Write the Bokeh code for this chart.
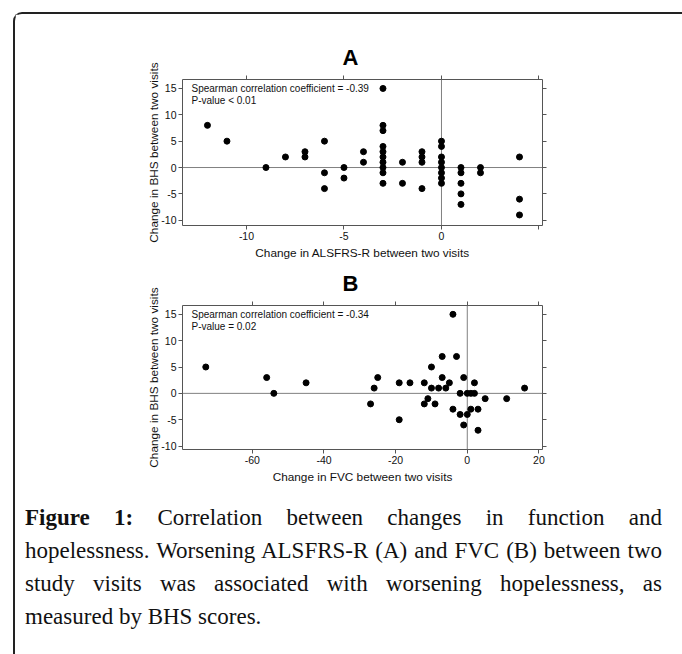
from bokeh.plotting import figure
from bokeh.models import Span, Label, LinearAxis, FixedTicker, Div, Range1d, Spacer
from bokeh.layouts import column, row
from bokeh.embed import file_html
from bokeh.resources import INLINE

# ---------------- data ----------------
a_x = [-12, -11, -9, -8, -7, -7, -6, -6, -6, -5, -5, -4, -4,
       -3, -3, -3, -3, -3, -3, -3, -3, -3, -3,
       -2, -2, -1, -1, -1, -1,
       0, 0, 0, 0, 0, 0, 0, 0,
       1, 1, 1, 1, 1, 2, 2, 4, 4, 4]
a_y = [8, 5, 0, 2, 3, 2, 5, -1, -4, 0, -2, 3, 1,
       15, 8, 7, 4, 3, 2, 1, 0, -1, -3,
       1, -3, 3, 2, 1, -4,
       5, 4, 2, 1, 0, -1, -2, -3,
       0, -1, -3, -5, -7, 0, -1, 2, -6, -9]

b_x = [-73, -56, -54, -45, -27, -26, -25, -19, -19, -16, -12, -12, -11,
       -10, -10, -9, -8, -7, -7, -6, -5, -4, -4, -3, -2, -2, -1, -1,
       0, 0, 1, 1, 2, 2, 3, 3, 5, 11, 16]
b_y = [5, 3, 0, 2, -2, 1, 3, 2, -5, 2, 2, -2, -1,
       5, 1, -2, 1, 7, 3, 1, 2, 15, -3, 7, 0, -4, 3, -6,
       0, -4, 0, -3, 2, 0, -3, -7, -1, -1, 1]

y_ticks = [-10, -5, 0, 5, 10, 15]
y_labels = {-10: "-10", -5: "-5", 0: "0", 5: "5", 10: "10", 15: "15"}
a_x_ticks = [-10, -5, 0, 5]
a_x_labels = {-10: "-10", -5: "-5", 0: "0", 5: ""}
b_x_ticks = [-60, -40, -20, 0, 20]
b_x_labels = {-60: "-60", -40: "-40", -20: "-20", 0: "0", 20: "20"}

a_note = ["Spearman correlation coefficient = -0.39", "P-value < 0.01"]
b_note = ["Spearman correlation coefficient = -0.34", "P-value = 0.02"]

caption_lines = [
    "<b>Figure 1:</b> Correlation between changes in function and",
    "hopelessness. Worsening ALSFRS-R (A) and FVC (B) between two",
    "study visits was associated with worsening hopelessness, as",
    "measured by BHS scores.",
]

FONT = "Liberation Sans"
FRAME = "#555555"
TXT = "#111111"
W = 667
X0 = 15  # page x of the content start


def panel(xs, ys, title, xlabel, xr, yr, xticks, xover, note, note_x,
          height, top, bottom):
    p = figure(width=W, height=height, x_range=Range1d(*xr), y_range=Range1d(*yr),
               output_backend="svg", toolbar_location=None, title=title,
               min_border_left=182 - X0, min_border_right=W + X0 - 542,
               min_border_top=top, min_border_bottom=bottom,
               background_fill_color="white", border_fill_color="white",
               outline_line_color=FRAME, outline_line_width=1)
    p.grid.visible = False

    p.title.align = "left"
    p.title.offset = 160
    p.title.text_font = FONT
    p.title.text_font_size = "22px"
    p.title.text_font_style = "bold"
    p.title.text_color = "black"
    p.title.standoff = 12

    for ax in (p.below[0], p.left[0]):
        ax.axis_line_color = None
        ax.major_tick_line_color = FRAME
        ax.major_tick_out = 4
        ax.major_tick_in = 0
        ax.minor_tick_out = 0
        ax.minor_tick_in = 0
        ax.major_label_text_font = FONT
        ax.major_label_text_font_size = "10.5px"
        ax.major_label_text_color = TXT
        ax.axis_label_text_font = FONT
        ax.axis_label_text_font_size = "11.8px"
        ax.axis_label_text_font_style = "normal"
        ax.axis_label_text_color = TXT
        ax.major_label_standoff = 2

    xb = p.below[0]
    xb.ticker = FixedTicker(ticks=xticks)
    xb.major_label_overrides = xover
    xb.axis_label = xlabel
    xb.axis_label_standoff = 3

    yl = p.left[0]
    yl.ticker = FixedTicker(ticks=y_ticks)
    yl.major_label_overrides = y_labels
    yl.major_label_orientation = "horizontal"
    yl.axis_label = "Change in BHS between two visits"
    yl.axis_label_standoff = -3

    ra = LinearAxis(ticker=FixedTicker(ticks=y_ticks), axis_line_color=None,
                    major_tick_line_color=FRAME, major_tick_out=4, major_tick_in=0,
                    minor_tick_out=0, minor_tick_in=0,
                    major_label_overrides={t: "" for t in y_ticks},
                    major_label_standoff=0)
    p.add_layout(ra, "right")
    ta = LinearAxis(ticker=FixedTicker(ticks=xticks), axis_line_color=None,
                    major_tick_line_color=FRAME, major_tick_out=4, major_tick_in=0,
                    minor_tick_out=0, minor_tick_in=0,
                    major_label_overrides={t: "" for t in xticks},
                    major_label_standoff=0)
    p.add_layout(ta, "above")

    p.add_layout(Span(location=0, dimension="height", line_color="#808080",
                      line_width=1, level="underlay"))
    p.add_layout(Span(location=0, dimension="width", line_color="#808080",
                      line_width=1, level="underlay"))

    p.scatter(xs, ys, size=6, color="black", line_color="black")

    p.add_layout(Label(x=note_x, y=15, text=note[0], text_baseline="middle",
                       text_font=FONT, text_font_size="10px", text_color=TXT))
    p.add_layout(Label(x=note_x, y=15, y_offset=-12, text=note[1],
                       text_baseline="middle", text_font=FONT,
                       text_font_size="10px", text_color=TXT))
    return p


pA = panel(a_x, a_y, "A", "Change in ALSFRS-R between two visits",
           (-13.28, 5.18), (-11.0, 16.7), a_x_ticks, a_x_labels, a_note, -12.82,
           248, 65, 34)
pB = panel(b_x, b_y, "B", "Change in FVC between two visits",
           (-79.5, 21.0), (-10.65, 16.67), b_x_ticks, b_x_labels, b_note, -77.0,
           224, 41, 36)

just = "text-align:justify;text-align-last:justify;"
html = ('<div style="font-family:\'Liberation Serif\';font-size:23px;line-height:33px;'
        'color:#111;width:642px;padding:10px 0 0 5px;">'
        + "".join('<div style="%s">%s</div>' % (just, ln) for ln in caption_lines[:-1])
        + '<div>%s</div>' % caption_lines[-1]
        + '</div>')
cap = Div(text=html, width=W, height=166)

inner = column(pA, pB, cap,
               styles={"border-left": "2px solid #222", "border-top": "2px solid #222",
                       "border-top-left-radius": "9px"})
layout = column(Spacer(height=12), row(Spacer(width=13), inner))

open("out.html", "w").write(file_html(layout, INLINE))
